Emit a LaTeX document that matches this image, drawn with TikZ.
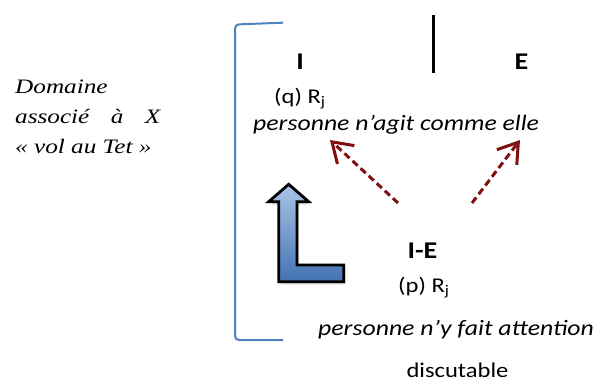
\documentclass[tikz,border=0pt]{standalone}
\usepackage{fontspec}
\setmainfont{Carlito}[FakeStretch=1.17]
\newfontfamily\domfont{Liberation Serif}[FakeStretch=1.23]
\usetikzlibrary{arrows.meta,shadows}
\definecolor{brkB}{RGB}{79,129,189}
\definecolor{arrR}{RGB}{128,16,16}
\definecolor{upBl}{RGB}{170,197,230}
\definecolor{upBd}{RGB}{68,114,180}

\begin{document}
\begin{tikzpicture}[x=1pt,y=-1pt,>={Straight Barb[length=19pt,width=25pt]},
  dom/.style={inner sep=0pt,anchor=base west,font=\fontsize{20.5}{20.5}\selectfont\domfont\itshape},
  txt/.style={inner sep=0pt,anchor=base west,font=\fontsize{21}{21}\selectfont},
  itx/.style={txt,font=\fontsize{22}{22}\selectfont\itshape},
  hd/.style={inner sep=0pt,anchor=base,font=\fontsize{24}{24}\selectfont\bfseries},
  dsh/.style={->,arrR,line width=3pt,dash pattern=on 7pt off 4pt}]
\useasboundingbox (0,0) rectangle (597,383);
% domaine associe a X
\node[dom] (dom1) at (15,93.3) {Domaine};
\node[dom] (dom2) at (15,123.3) {\makebox[145pt][s]{associé à X}};
\node[dom] (dom3) at (15,153.3) {« vol au Tet »};
% bracket
\draw[brkB,line width=2pt,rounded corners=4pt] (283,22.7)--(235,24.5)--(235,340)--(283,340);
% separator I | E
\draw[line width=3pt] (433,15)--(433,73);
% upper part
\node[hd] (I) at (300,69.3) {I};
\node[hd] (E) at (521.5,69.3) {E};
\node[txt] (qR) at (274,103) {(q) R\textsubscript{j}};
\node[itx] (agit) at (253,130) {personne n’agit comme elle};
% lower part
\node[hd] (IE) at (422.5,258) {I-E};
\node[txt] (pR) at (398,292) {(p) R\textsubscript{j}};
\node[itx] (att) at (318,335) {personne n’y fait attention};
\node[txt,anchor=base] (disc) at (457.5,377.5) {discutable};
% dashed arrows
\coordinate (tl) at (398,203);
\coordinate (hl) at (330,140);
\coordinate (tr) at (472,203);
\coordinate (hr) at (520,140);
\draw[dsh] (tl)--(hl);
\draw[dsh] (tr)--(hr);
% blue L arrow
\draw[line width=2.8pt,line join=miter,top color=upBl,bottom color=upBd,
  drop shadow={opacity=0.25,shadow xshift=2pt,shadow yshift=-3pt}]
  (288.7,184.3)--(308.7,201.7)--(297,201.7)--(297,265)--(343.7,265)--(343.7,281.7)--(278.7,281.7)--(278.7,201.7)--(268.7,201.7)--cycle;
\end{tikzpicture}
\end{document}
